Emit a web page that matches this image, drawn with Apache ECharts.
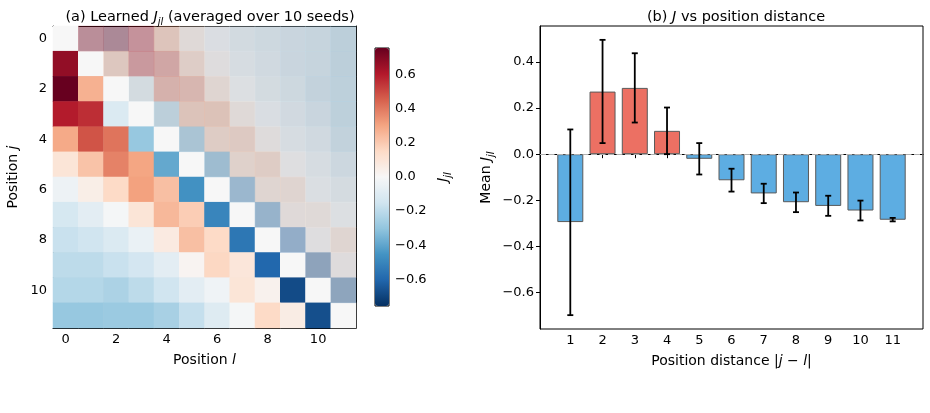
<!DOCTYPE html>
<html>
<head>
<meta charset="utf-8">
<script src="https://cdn.jsdelivr.net/npm/echarts@6/dist/echarts.min.js"></script>
<style>
  html, body { margin: 0; padding: 0; background: #fff; }
  #chart { width: 930px; height: 413px; }
</style>
</head>
<body>
<div id="chart"></div>
<script>
// heatmap: position index labels
var positions = ['0','1','2','3','4','5','6','7','8','9','10','11'];
// learned J (row j, column l), averaged over seeds
var J = [
  [ 0.00,  0.67,  0.76,  0.60,  0.29,  0.10, -0.04, -0.13, -0.17, -0.20, -0.22, -0.29],
  [ 0.67,  0.00,  0.27,  0.56,  0.48,  0.22,  0.05, -0.08, -0.15, -0.20, -0.22, -0.29],
  [ 0.76,  0.27,  0.00, -0.11,  0.41,  0.38,  0.15, -0.01, -0.11, -0.17, -0.24, -0.28],
  [ 0.60,  0.56, -0.11,  0.00, -0.29,  0.30,  0.31,  0.10, -0.05, -0.14, -0.20, -0.28],
  [ 0.29,  0.48,  0.41, -0.29,  0.00, -0.39,  0.23,  0.25,  0.07, -0.08, -0.15, -0.25],
  [ 0.10,  0.22,  0.38,  0.30, -0.39,  0.00, -0.46,  0.19,  0.23,  0.02, -0.08, -0.18],
  [-0.04,  0.05,  0.15,  0.31,  0.23, -0.46,  0.00, -0.50,  0.15,  0.16, -0.03, -0.10],
  [-0.13, -0.08, -0.01,  0.10,  0.25,  0.19, -0.50,  0.00, -0.55,  0.09,  0.10, -0.01],
  [-0.17, -0.15, -0.11, -0.05,  0.07,  0.23,  0.15, -0.55,  0.00, -0.60,  0.03,  0.15],
  [-0.20, -0.20, -0.17, -0.14, -0.08,  0.02,  0.16,  0.09, -0.60,  0.00, -0.68,  0.06],
  [-0.22, -0.22, -0.24, -0.20, -0.15, -0.08, -0.03,  0.10,  0.03, -0.68,  0.00, -0.67],
  [-0.29, -0.29, -0.28, -0.28, -0.25, -0.18, -0.10, -0.01,  0.15,  0.06, -0.67,  0.00]
];
var colorbarTicks = [-0.6, -0.4, -0.2, 0, 0.2, 0.4, 0.6];

// bar chart: mean J by distance |j-l|
var distances = [1, 2, 3, 4, 5, 6, 7, 8, 9, 10, 11];
var meanJ  = [-0.294, 0.271, 0.287, 0.101, -0.020, -0.113, -0.170, -0.208, -0.224, -0.244, -0.284];
var errLow = [-0.697, 0.048, 0.137, 0.000, -0.088, -0.162, -0.212, -0.251, -0.267, -0.287, -0.291];
var errHigh= [ 0.107, 0.495, 0.437, 0.202,  0.048, -0.063, -0.128, -0.166, -0.180, -0.201, -0.276];
var barTicks = [-0.6, -0.4, -0.2, 0, 0.2, 0.4];

var FONT = 'DejaVu Sans';
var rdbu = ['#053061','#2166ac','#4393c3','#92c5de','#d1e5f0','#f7f7f7','#fddbc7','#f4a582','#d6604d','#b2182b','#67001f'];

var lower = [], upper = [];
for (var j = 0; j < J.length; j++) {
  for (var l = 0; l < J[j].length; l++) {
    if (l <= j) lower.push([l, j, J[j][l]]);
    else upper.push([l, j, J[j][l]]);
  }
}
var bars = distances.map(function (d, i) { return [d, meanJ[i]]; });
var errs = distances.map(function (d, i) { return [d, errLow[i], errHigh[i]]; });

function fmt(v) {
  return (v < 0 ? '\u2212' : '') + Math.abs(v).toFixed(1);
}

function richSet(size, sub) {
  return {
    t: { fontFamily: FONT, fontSize: size, fontWeight: 'normal', color: '#000', lineHeight: size + 6 },
    i: { fontFamily: FONT, fontSize: size, fontWeight: 'normal', color: '#000', fontStyle: 'italic', lineHeight: size + 6 },
    s: { fontFamily: FONT, fontSize: sub, fontWeight: 'normal', color: '#000', fontStyle: 'italic', verticalAlign: 'bottom', lineHeight: sub + 3 }
  };
}
var rich = richSet(14, 10);
var richTitle = richSet(14.5, 10);

var tickLabel = { fontFamily: FONT, fontSize: 13, color: '#000' };
var blackLine = { show: true, lineStyle: { color: '#000', width: 1 } };

var myChart = echarts.init(document.getElementById('chart'), null, { renderer: 'canvas' });

var option = {
  backgroundColor: '#fff',
  animation: false,
  title: [{
    text: '{t|(a) Learned }{i|J}{s|jl}{t| (averaged over 10 seeds)}',
    left: 205, top: 2, textAlign: 'center',
    textStyle: { fontWeight: 'normal', rich: richTitle }
  }, {
    text: '{t|(b) }{i|J}{t| vs position distance}',
    left: 731, top: 2, textAlign: 'center',
    textStyle: { fontWeight: 'normal', rich: richTitle }
  }],
  grid: [
    { left: 53, top: 26, width: 303, height: 302, show: true, backgroundColor: '#cfd3d8', borderWidth: 0 },
    { left: 375, top: 48, width: 14, height: 258, show: true, borderColor: '#000', borderWidth: 1, backgroundColor: 'transparent' },
    { left: 540, top: 26, width: 383, height: 303, show: true, borderColor: '#000', borderWidth: 1 }
  ],
  xAxis: [{
    gridIndex: 0, type: 'category', data: positions, position: 'bottom',
    axisLine: blackLine,
    axisTick: { interval: 1, alignWithLabel: true, length: 4, lineStyle: { color: '#000' } },
    axisLabel: Object.assign({ interval: 1, margin: 5 }, tickLabel),
    splitLine: { show: false },
    name: '{t|Position }{i|l}', nameLocation: 'middle', nameGap: 22,
    nameTextStyle: { rich: rich }
  }, {
    gridIndex: 0, type: 'category', data: positions, position: 'top',
    axisLine: blackLine, axisTick: { show: false }, axisLabel: { show: false }
  }, {
    gridIndex: 1, type: 'value', show: false, min: 0, max: 1
  }, {
    gridIndex: 2, type: 'value', min: 0.06, max: 11.94,
    axisLine: blackLine,
    axisTick: { customValues: distances, length: 4, lineStyle: { color: '#000' } },
    axisLabel: Object.assign({ customValues: distances, margin: 5 }, tickLabel),
    splitLine: { show: false },
    name: '{t|Position distance |}{i|j}{t| \u2212 }{i|l}{t||}', nameLocation: 'middle', nameGap: 22,
    nameTextStyle: { rich: rich }
  }],
  yAxis: [{
    gridIndex: 0, type: 'category', data: positions, inverse: true, position: 'left',
    axisLine: blackLine,
    axisTick: { interval: 1, alignWithLabel: true, length: 4, lineStyle: { color: '#000' } },
    axisLabel: Object.assign({ interval: 1, margin: 6 }, tickLabel),
    splitLine: { show: false },
    name: '{t|Position }{i|j}', nameLocation: 'middle', nameGap: 30, nameRotate: 90,
    nameTextStyle: { rich: rich }
  }, {
    gridIndex: 0, type: 'category', data: positions, inverse: true, position: 'right',
    axisLine: blackLine, axisTick: { show: false }, axisLabel: { show: false }
  }, {
    gridIndex: 1, type: 'value', min: -0.757, max: 0.757, position: 'right',
    axisLine: { show: false },
    axisTick: { customValues: colorbarTicks, length: 4, lineStyle: { color: '#000' } },
    axisLabel: Object.assign({ customValues: colorbarTicks, margin: 6, formatter: fmt }, tickLabel),
    splitLine: { show: false },
    name: '{i|J}{s|jl}', nameLocation: 'middle', nameGap: 44, nameRotate: 90,
    nameTextStyle: { rich: rich }
  }, {
    gridIndex: 2, type: 'value', min: -0.757, max: 0.555,
    axisLine: blackLine,
    axisTick: { customValues: barTicks, length: 4, lineStyle: { color: '#000' } },
    axisLabel: Object.assign({ customValues: barTicks, margin: 6, formatter: fmt }, tickLabel),
    splitLine: { show: false },
    name: '{t|Mean }{i|J}{s|jl}', nameLocation: 'middle', nameGap: 44, nameRotate: 90,
    nameTextStyle: { rich: rich }
  }],
  visualMap: {
    type: 'continuous', seriesIndex: [0, 1],
    min: -0.757, max: 0.757,
    orient: 'vertical', left: 375, top: 48, itemWidth: 14, itemHeight: 258,
    padding: 0, calculable: false, hoverLink: false, text: null, showLabel: false,
    inRange: { color: rdbu }
  },
  series: [{
    name: 'lower', type: 'heatmap', xAxisIndex: 0, yAxisIndex: 0,
    data: lower, itemStyle: { borderWidth: 0 }
  }, {
    name: 'upper', type: 'heatmap', xAxisIndex: 0, yAxisIndex: 0,
    data: upper, itemStyle: { opacity: 0.35, borderColor: 'rgba(255,255,255,0.25)', borderWidth: 0.5 }
  }, {
    name: 'mean', type: 'bar', xAxisIndex: 3, yAxisIndex: 3,
    data: bars, barWidth: 26,
    itemStyle: {
      color: function (p) { return p.value[1] >= 0 ? '#ec7063' : '#5dade2'; },
      borderColor: '#5a5a5a', borderWidth: 1
    },
    markLine: {
      silent: true, symbol: 'none', label: { show: false },
      lineStyle: { color: '#b0b0b0', type: [6, 2.5], width: 1.2 },
      emphasis: { disabled: true },
      data: [{ yAxis: 0 }]
    },
    z: 2
  }, {
    name: 'err', type: 'custom', xAxisIndex: 3, yAxisIndex: 3,
    data: errs, encode: { x: 0, y: [1, 2] }, z: 5,
    renderItem: function (params, api) {
      var x = api.value(0);
      var lo = api.coord([x, api.value(1)]);
      var hi = api.coord([x, api.value(2)]);
      var cap = 3;
      var st = { stroke: '#000', lineWidth: 1.8 };
      return {
        type: 'group',
        children: [
          { type: 'line', shape: { x1: lo[0], y1: lo[1], x2: hi[0], y2: hi[1] }, style: st },
          { type: 'line', shape: { x1: lo[0] - cap, y1: lo[1], x2: lo[0] + cap, y2: lo[1] }, style: st },
          { type: 'line', shape: { x1: hi[0] - cap, y1: hi[1], x2: hi[0] + cap, y2: hi[1] }, style: st }
        ]
      };
    }
  }]
};

myChart.setOption(option);
</script>
</body>
</html>
